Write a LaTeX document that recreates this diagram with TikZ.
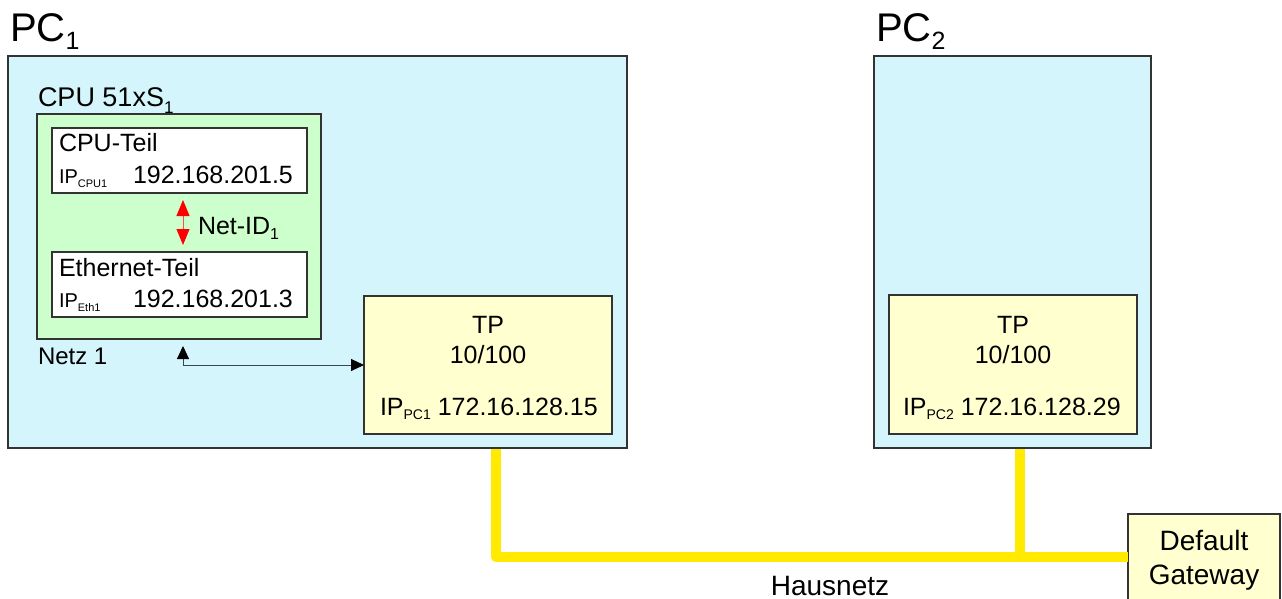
\documentclass[tikz,border=0pt]{standalone}
\usepackage{fontspec}
\setmainfont{Liberation Sans}
\usetikzlibrary{arrows.meta}
\definecolor{pcblue}{HTML}{D5F5FD}
\definecolor{cpugreen}{HTML}{CCFFCC}
\definecolor{tpyellow}{HTML}{FFFFD0}
\definecolor{busyellow}{HTML}{FFEA00}
\definecolor{boxline}{HTML}{333333}
\definecolor{arrline}{HTML}{3A4650}
\newcommand{\fs}[1]{\fontsize{#1}{#1}\selectfont}
\newcommand{\lowsub}[3]{\raisebox{-#2pt}{\fs{#1}#3}}
\begin{document}
\begin{tikzpicture}[x=1pt,y=-1pt,
  box/.style={draw=boxline, line width=1.3pt, inner sep=0pt, outer sep=0pt, anchor=north west},
  lbl/.style={inner sep=0pt, outer sep=0pt, anchor=base west},
  clbl/.style={inner sep=0pt, outer sep=0pt, anchor=base, align=center},
  redarrow/.style={draw=red!70, line width=1pt, {Triangle[length=16pt,width=13pt,fill=red,color=red]}-{Triangle[length=16pt,width=13pt,fill=red,color=red]}},
  blkarrow/.style={draw=arrline, line width=1pt, {Triangle[length=13pt,width=12pt,fill=black,color=black]}-{Triangle[length=13pt,width=12pt,fill=black,color=black]}},
  bus/.style={draw=busyellow, line width=10pt, line join=round}]
\useasboundingbox (0,0) rectangle (1282,599);
\clip (0,0) rectangle (1282,599);

% PC boxes
\node[box, fill=pcblue, minimum width=619pt, minimum height=392pt] (pc1) at (8,56) {};
\node[box, fill=pcblue, minimum width=277pt, minimum height=392pt] (pc2) at (874,56) {};
\node[lbl] (pc1lbl) at (10,42) {\fs{40}PC\lowsub{25}{8}{1}};
\node[lbl] (pc2lbl) at (876,42) {\fs{40}PC\lowsub{25}{8}{2}};

% CPU 51xS
\node[lbl] (cpulbl) at (38,107) {\fs{27}CPU 51xS\lowsub{17}{6}{1}};
\node[box, fill=cpugreen, minimum width=284pt, minimum height=225pt] (cpu51) at (37,114) {};
\node[box, fill=white, minimum width=255pt, minimum height=65pt] (cputeil) at (52,128) {};
\node[box, fill=white, minimum width=255pt, minimum height=65pt] (ethteil) at (52,252) {};
\node[lbl] (cputxt) at (59,151) {\fs{25}CPU-Teil};
\node[lbl] (cpuip) at (59,183) {\fs{20}IP\lowsub{11}{4}{CPU1}};
\node[lbl] (cpuipv) at (133,183) {\fs{25}192.168.201.5};
\node[lbl] (ethtxt) at (59,276) {\fs{25}Ethernet-Teil};
\node[lbl] (ethip) at (59,307) {\fs{20}IP\lowsub{11}{4}{Eth1}};
\node[lbl] (ethipv) at (133,307) {\fs{25}192.168.201.3};
\node[lbl] (netid) at (198,234) {\fs{25}Net-ID\lowsub{16}{5}{1}};
\node[lbl] (netz1) at (38,364) {\fs{24}Netz 1};

% TP boxes
\node[box, fill=tpyellow, minimum width=248pt, minimum height=138pt] (tp1) at (364,296) {};
\node[clbl] (tp1a) at (488,333) {\fs{25}TP};
\node[clbl] (tp1b) at (488,363) {\fs{25}10/100};
\node[lbl] (tp1ip) at (380,415) {\fs{25}IP\lowsub{14}{4}{PC1} 172.16.128.15};
\node[box, fill=tpyellow, minimum width=248pt, minimum height=139pt] (tp2) at (889,295) {};
\node[clbl] (tp2a) at (1013,333) {\fs{25}TP};
\node[clbl] (tp2b) at (1013,363) {\fs{25}10/100};
\node[lbl] (tp2ip) at (903,415) {\fs{25}IP\lowsub{14}{4}{PC2} 172.16.128.29};

% connectors inside PC1
\coordinate (ax) at (183,0);
\draw[redarrow, shorten <=7pt, shorten >=7pt] (cputeil.south -| ax) -- (ethteil.north -| ax);
\draw[blkarrow, shorten <=7pt] (cpu51.south -| ax) |- (tp1.west);

% Hausnetz bus
\node[box, fill=tpyellow, minimum width=152pt, minimum height=100pt] (gw) at (1128,514) {};
\node[clbl, font=\fontsize{28}{34}\selectfont] (gwtxt) at (1204,584) {Default\\Gateway};
\coordinate (d1) at (496,449);
\coordinate (d2) at (1020,449);
\coordinate (busy) at (0,557);
\draw[bus] (d1) |- (gw.west |- busy);
\draw[bus] (d2) -- (d2 |- busy);
\node[clbl] (haus) at (830,595) {\fs{28}Hausnetz};
\end{tikzpicture}
\end{document}
